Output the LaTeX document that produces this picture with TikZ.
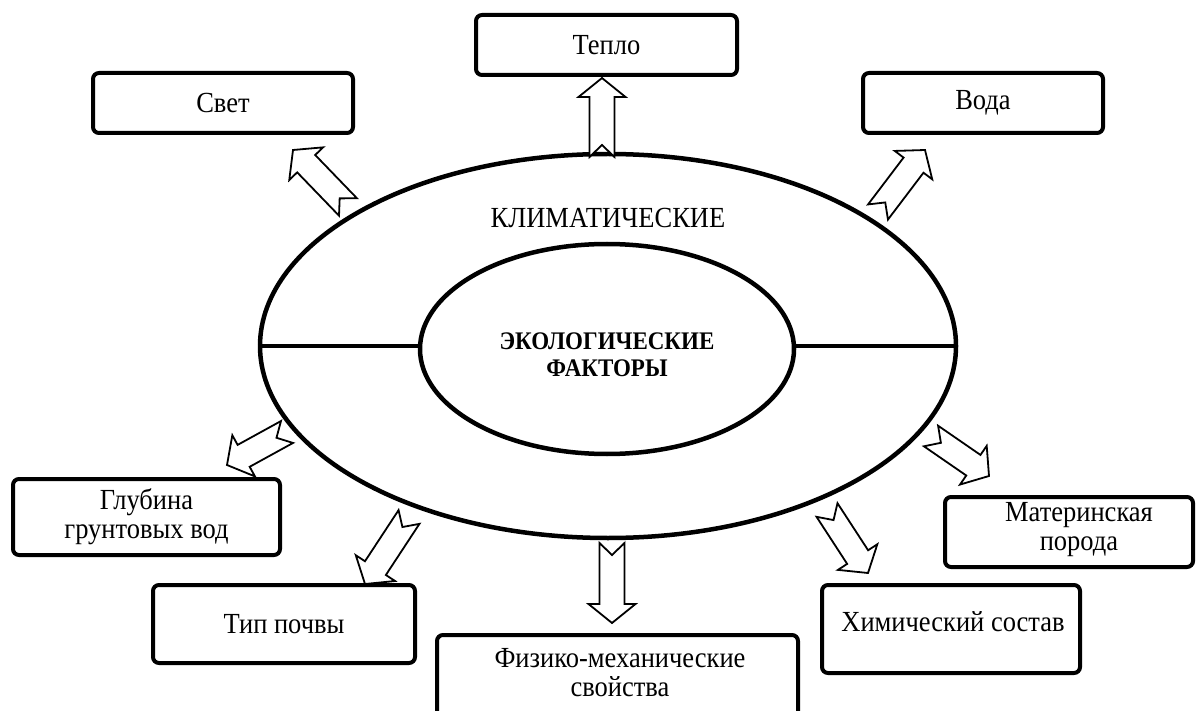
\documentclass[tikz,border=0pt]{standalone}
\usepackage{fontspec}
\setmainfont{Liberation Serif}
\usetikzlibrary{shapes.geometric,calc}
\newcommand{\blockarr}[2]{%
  \coordinate (#1hb) at ($(#2)!19pt!(#1)$);
  \draw[blk] ($(#1)!12.5pt!90:(#2)$) -- ($(#1)!12pt!(#2)$) -- ($(#1)!12.5pt!-90:(#2)$)
    -- ($(#1hb)!12.5pt!-90:(#2)$) -- ($(#1hb)!23.5pt!-90:(#2)$) -- (#2)
    -- ($(#1hb)!23.5pt!90:(#2)$) -- ($(#1hb)!12.5pt!90:(#2)$) -- cycle;}
\newcommand{\tall}[1]{\scalebox{1}[1.1]{#1}}
\begin{document}
\begin{tikzpicture}[x=1pt,y=-1pt,
  txt/.style={font=\fontsize{26.5}{29}\selectfont, align=center, inner sep=0pt},
  box/.style={draw, line width=4pt, rounded corners=6pt, txt},
  blk/.style={draw, fill=white, line width=1.8pt, line join=miter},
  ring/.style={draw, ellipse, line width=4.5pt, inner sep=0pt}]
\clip (0,0) rectangle (1202,711);
\fill[white] (0,0) rectangle (1202,711);

% ellipses
\node[ring, minimum width=696pt, minimum height=384pt] (outer) at (608,346) {};
\node[ring, minimum width=374pt, minimum height=210pt] (inner) at (607,349) {};
\node[font=\bfseries\fontsize{23}{27}\selectfont, align=center, inner sep=0pt] (eco) at (607,355)
      {\tall{ЭКОЛОГИЧЕСКИЕ}\\\tall{ФАКТОРЫ}};
\node[txt] (klim) at (608,218) {\tall{КЛИМАТИЧЕСКИЕ}};
\draw[line width=4pt] (outer.west) -- (outer.west -| inner.west);
\draw[line width=4pt] (outer.east) -- (outer.east -| inner.east);

% boxes
\node[box, minimum width=261pt, minimum height=60pt] (teplo) at (606.5,45) {\tall{Тепло}};
\node[box, minimum width=260pt, minimum height=60pt] (svet) at (223,103) {\tall{Свет}};
\node[box, minimum width=240pt, minimum height=60pt] (voda) at (983,103) {\tall{Вода}};
\node[box, minimum width=267pt, minimum height=76pt] (glub) at (146.5,517) {\tall{Глубина}\\\tall{грунтовых вод}};
\node[box, minimum width=248pt, minimum height=70pt] (mater) at (1069,532) {};
\node[txt] (matert) at (1079,530) {\tall{Материнская}\\\tall{порода}};
\node[box, minimum width=262pt, minimum height=78pt] (tip) at (284,624) {\tall{Тип почвы}};
\node[box, minimum width=361pt, minimum height=120pt] (fiz) at (617.5,695) {};
\node[txt] (fizt) at (620,673) {\tall{Физико-механические}\\\tall{свойства}};
\node[box, minimum width=258pt, minimum height=88pt] (him) at (951,629) {};
\node[txt] (himt) at (953,622) {\tall{Химический состав}};

% arrow end points
\coordinate (a1t) at (602,157); \coordinate (a1h) at (602,78);
\coordinate (a2t) at (348,207); \coordinate (a2h) at (293,150);
\coordinate (a3t) at (878,212); \coordinate (a3h) at (925,150);
\coordinate (a4t) at (287,432); \coordinate (a4h) at (227,465);
\coordinate (a5t) at (409,517); \coordinate (a5h) at (365,584);
\coordinate (a6t) at (612,543); \coordinate (a6h) at (612,623);
\coordinate (a7t) at (827,510); \coordinate (a7h) at (868,573);
\coordinate (a8t) at (931,436); \coordinate (a8h) at (989,476);

\blockarr{a1t}{a1h}
\blockarr{a2t}{a2h}
\blockarr{a3t}{a3h}
\blockarr{a4t}{a4h}
\blockarr{a5t}{a5h}
\blockarr{a6t}{a6h}
\blockarr{a7t}{a7h}
\blockarr{a8t}{a8h}
\end{tikzpicture}
\end{document}
